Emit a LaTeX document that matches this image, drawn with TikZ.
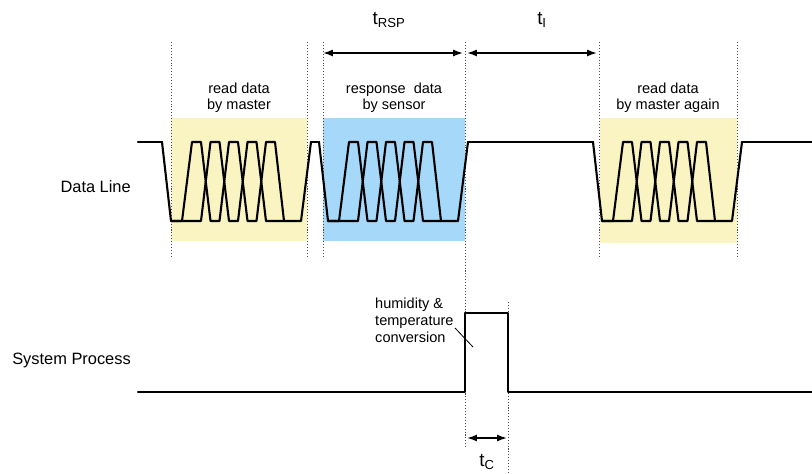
\documentclass[tikz,border=0pt]{standalone}
\usepackage{fontspec}
\setmainfont{Liberation Sans}
\usetikzlibrary{arrows.meta}
\definecolor{paleyellow}{RGB}{250,244,194}
\definecolor{skyblue}{RGB}{166,216,250}

\tikzset{
  wave/.style={line width=1.8pt, line join=round, line cap=round},
  guide/.style={dash pattern=on 0.9pt off 1.6pt, line width=0.6pt, black!70},
  span/.style={{Latex[length=8.5pt,width=6pt]}-{Latex[length=8.5pt,width=6pt]}, line width=1.3pt},
  lbl/.style={font=\fontsize{12.4}{13.8}\selectfont, align=center, inner sep=0pt},
  side/.style={font=\fontsize{14}{16}\selectfont, anchor=east, inner sep=0pt},
  tlbl/.style={font=\fontsize{16}{18}\selectfont, inner sep=0pt},
}

% one burst of data bits, #1 = x where the line leaves the high level
\newcommand{\burst}[1]{%
  \draw[wave] (#1,142) -- (#1+9,221) -- (#1+20,221) -- (#1+30,142) -- (#1+39,142)
    -- (#1+48.5,221) -- (#1+57.5,221) -- (#1+67,142) -- (#1+76,142)
    -- (#1+85.5,221) -- (#1+94.5,221) -- (#1+104,142) -- (#1+113,142)
    -- (#1+122,221) -- (#1+139,221) -- (#1+149,142);
  \draw[wave] (#1+9,221) -- (#1+39,221) -- (#1+48.5,142) -- (#1+57.5,142)
    -- (#1+67,221) -- (#1+76,221) -- (#1+85.5,142) -- (#1+94.5,142)
    -- (#1+104,221) -- (#1+122,221);
}

\begin{document}
\begin{tikzpicture}[x=0.03cm,y=-0.03cm]
\useasboundingbox (0,0) rectangle (812,473);

% coloured windows
\fill[paleyellow] (171,118) rectangle (307,241);
\fill[skyblue] (323,118) rectangle (465,241);
\fill[paleyellow] (600,118) rectangle (737,243);

% dotted guides
\foreach \x in {171,307,323,599,737} {
  \draw[guide] (\x,42) -- (\x,258);
}
\draw[guide] (465,42) -- (465,447);
\draw[guide] (508,302) -- (508,473);

% data line
\draw[wave] (138,142) -- (162,142);
\draw[wave] (311,142) -- (319,142);
\draw[wave] (468,142) -- (593,142);
\draw[wave] (742,142) -- (812,142);
\burst{162}
\burst{319}
\burst{593}

% system process
\draw[wave] (138,392) -- (465,392) -- (465,313) -- (508,313) -- (508,392) -- (812,392);

% time spans
\coordinate (rsp-l) at (323,53);
\coordinate (rsp-r) at (463,53);
\coordinate (i-l) at (467,53);
\coordinate (i-r) at (597,53);
\coordinate (c-l) at (467,438);
\coordinate (c-r) at (507,438);
\draw[span] (rsp-l) -- (rsp-r);
\draw[span] (i-l) -- (i-r);
\draw[span] (c-l) -- (c-r);
\node[tlbl] (trsp) at (389,20) {t\textsubscript{RSP}};
\node[tlbl] (ti) at (542,20) {t\textsubscript{I}};
\node[tlbl] (tc) at (487,462) {t\textsubscript{C}};

% labels
\node[lbl] (readm) at (239,98) {read data\\by master};
\node[lbl] (resp) at (394,98) {response\ \ data\\by sensor};
\node[lbl] (readma) at (668,98) {read data\\by master again};
\node[side] (dline) at (131,187) {Data Line};
\node[side] (sysp) at (131,360) {System Process};

\node[lbl, align=left, anchor=west, font=\fontsize{12.4}{14.5}\selectfont] (hum) at (375,320)
  {humidity \&\\temperature\\conversion};
\coordinate (lead) at (455,328);
\coordinate (pulse) at (473,347);
\draw[line width=0.7pt] (lead) -- (pulse);
\end{tikzpicture}
\end{document}
